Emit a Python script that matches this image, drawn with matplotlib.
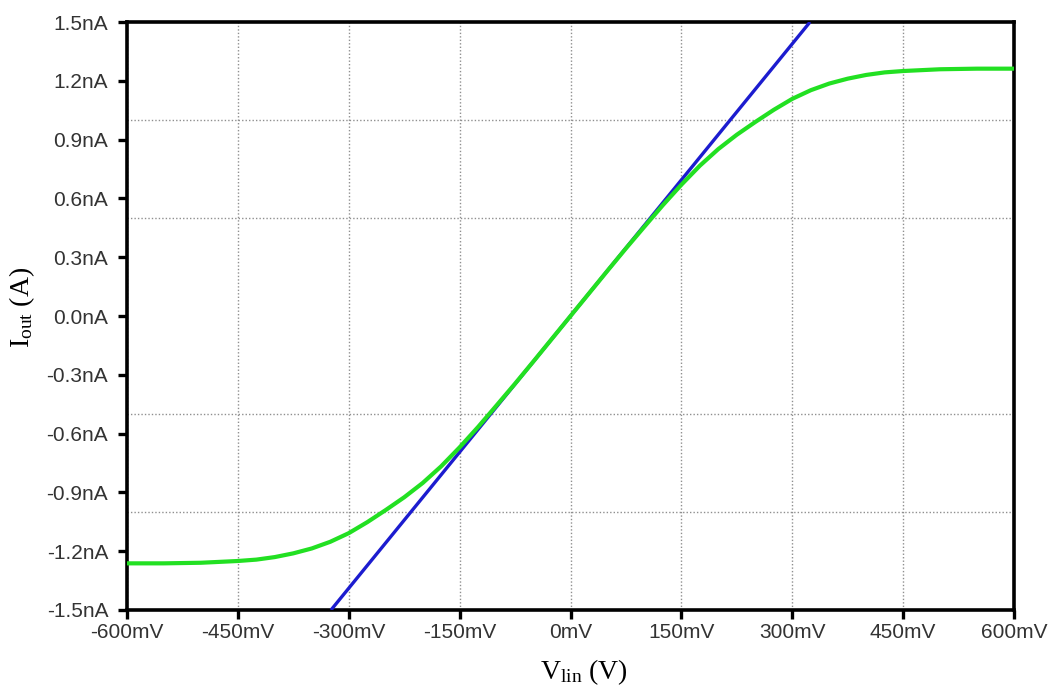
import matplotlib
matplotlib.use("Agg")
import matplotlib.pyplot as plt
from matplotlib.ticker import FixedLocator

# Data (x in mV, y in nA)
green_v = [-600, -550, -500, -450, -425, -400, -375, -350, -325, -300, -275, -250, -225,
           -200, -175, -150, -125, -100, -75, -50, 0, 50, 75, 100, 125, 150, 175, 200,
           225, 250, 275, 300, 325, 350, 375, 400, 425, 450, 500, 550, 600]
green_i = [-1.262, -1.262, -1.259, -1.250, -1.243, -1.230, -1.211, -1.186, -1.152, -1.108,
           -1.052, -0.990, -0.925, -0.852, -0.767, -0.670, -0.566, -0.456, -0.345, -0.231,
           0.0, 0.231, 0.345, 0.456, 0.566, 0.670, 0.767, 0.852, 0.925, 0.990, 1.052,
           1.108, 1.152, 1.186, 1.211, 1.230, 1.243, 1.250, 1.259, 1.262, 1.262]
blue_v = [-324, 324]
blue_i = [-1.5, 1.5]

x_ticks = [-600, -450, -300, -150, 0, 150, 300, 450, 600]
x_labels = ["-600mV", "-450mV", "-300mV", "-150mV", "0mV", "150mV", "300mV", "450mV", "600mV"]
y_ticks = [-1.5, -1.2, -0.9, -0.6, -0.3, 0.0, 0.3, 0.6, 0.9, 1.2, 1.5]
y_labels = ["-1.5nA", "-1.2nA", "-0.9nA", "-0.6nA", "-0.3nA", "0.0nA", "0.3nA", "0.6nA",
            "0.9nA", "1.2nA", "1.5nA"]
y_grid = [-1.0, -0.5, 0.0, 0.5, 1.0]

plt.rcParams['mathtext.fontset'] = 'custom'
plt.rcParams['mathtext.rm'] = 'Liberation Serif'
plt.rcParams['mathtext.it'] = 'Liberation Serif:italic'

fig = plt.figure(figsize=(10.53, 6.86), dpi=100)
ax = fig.add_axes([0.1206, 0.1108, 0.8424, 0.8571])

ax.plot(blue_v, blue_i, color='#1c1ccf', lw=2.4, solid_capstyle='butt', zorder=3)
ax.plot(green_v, green_i, color='#22e022', lw=3.0, zorder=4)

ax.set_xlim(-600, 600)
ax.set_ylim(-1.5, 1.5)
ax.set_xticks(x_ticks)
ax.set_xticklabels(x_labels)
ax.set_yticks(y_ticks)
ax.set_yticklabels(y_labels)
ax.yaxis.set_minor_locator(FixedLocator(y_grid))

ax.grid(which='major', axis='x', color='#8f8f8f', linestyle=(0, (1, 1.5)), lw=1.0)
ax.grid(which='minor', axis='y', color='#8f8f8f', linestyle=(0, (1, 1.5)), lw=1.0)
ax.tick_params(which='minor', length=0)
ax.tick_params(which='major', direction='out', length=6.5, width=2.4, color='black',
               labelsize=15, labelcolor='#333333')
ax.tick_params(axis='x', which='major', pad=3)
ax.tick_params(axis='y', which='major', pad=7)
for lab in ax.get_xticklabels() + ax.get_yticklabels():
    lab.set_family('Liberation Sans')

for s in ax.spines.values():
    s.set_linewidth(2.6)
    s.set_color('black')

ax.set_xlabel(r'$\mathrm{V_{lin}}$' + ' (V)', fontsize=20, family='Liberation Serif')
ax.set_ylabel(r'$\mathrm{I_{out}}$' + ' (A)', fontsize=20, family='Liberation Serif')
ax.xaxis.set_label_coords(0.515, -0.080)
ax.yaxis.set_label_coords(-0.101, 0.515)

fig.savefig('out.png', dpi=100)
